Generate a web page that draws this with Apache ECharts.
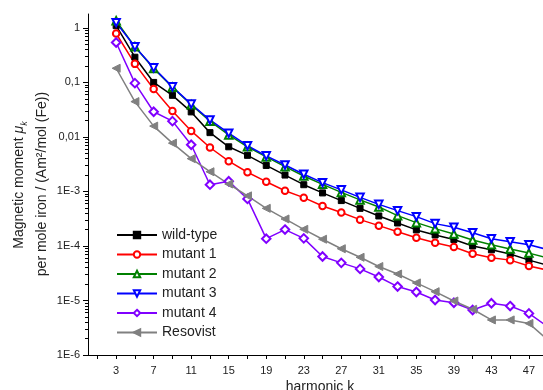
<!DOCTYPE html>
<html>
<head>
<meta charset="utf-8">
<script src="https://cdn.jsdelivr.net/npm/echarts@6/dist/echarts.min.js"></script>
<style>
  html, body { margin: 0; padding: 0; background: #fff; }
  #chart { width: 543px; height: 390px; }
</style>
</head>
<body>
<div id="chart"></div>
<script>
// harmonic numbers (odd harmonics)
const harmonics = [3, 5, 7, 9, 11, 13, 15, 17, 19, 21, 23, 25, 27, 29, 31, 33, 35, 37, 39, 41, 43, 45, 47, 49]

// magnetic moment per mole iron
const wildType = [1.1, 0.29, 0.1, 0.058, 0.0288, 0.012, 0.0066, 0.0046, 0.0030, 0.0020, 0.00133, 0.00094,
  0.00068, 0.00049, 0.000355, 0.000264, 0.000197, 0.000159, 0.000131, 0.0001, 8.5e-5, 7.1e-5, 5.5e-5, 4.4e-5]
const mutant1 = [0.79, 0.219, 0.076, 0.030, 0.0129, 0.0064, 0.0036, 0.00225, 0.00151, 0.00103, 0.00077, 0.00054,
  0.00041, 0.000304, 0.000236, 0.000183, 0.000142, 0.000115, 9.6e-5, 7.2e-5, 6.1e-5, 5.5e-5, 4.3e-5, 3.6e-5]
const mutant2 = [1.35, 0.45, 0.18, 0.082, 0.039, 0.0195, 0.0109, 0.0066, 0.0043, 0.00285, 0.00192, 0.00135,
  0.00096, 0.0007, 0.00052, 0.00036, 0.000268, 0.000208, 0.000166, 0.000129, 0.000105, 8.8e-5, 7.4e-5, 6.0e-5]
const mutant3 = [1.25, 0.45, 0.185, 0.083, 0.040, 0.0205, 0.0117, 0.0069, 0.0045, 0.00306, 0.00207, 0.00145,
  0.00107, 0.00078, 0.00058, 0.000445, 0.000345, 0.000257, 0.00022, 0.000175, 0.000136, 0.00012, 0.000105, 8.6e-5]
const mutant4 = [0.54, 0.097, 0.029, 0.0195, 0.0072, 0.00133, 0.00154, 0.00073, 0.000136, 0.0002, 0.000138, 6.4e-5,
  4.9e-5, 3.8e-5, 2.7e-5, 1.8e-5, 1.43e-5, 1.02e-5, 9.1e-6, 6.7e-6, 8.9e-6, 7.9e-6, 5.8e-6, 3.3e-6]
const resovist = [0.182, 0.0445, 0.0158, 0.0077, 0.004, 0.0023, 0.00137, 0.00083, 0.00049, 0.000313, 0.000202, 0.000133,
  8.9e-5, 6.2e-5, 4.2e-5, 3.06e-5, 2.1e-5, 1.45e-5, 9.8e-6, 6.9e-6, 4.4e-6, 4.4e-6, 3.8e-6, 1.9e-6]

// axis ticks / labels
const xTickValues = [1, 3, 5, 7, 9, 11, 13, 15, 17, 19, 21, 23, 25, 27, 29, 31, 33, 35, 37, 39, 41, 43, 45, 47]
const xLabelValues = [3, 7, 11, 15, 19, 23, 27, 31, 35, 39, 43, 47]
const yLabelValues = [1e-6, 1e-5, 1e-4, 1e-3, 1e-2, 1e-1, 1]
const yLabelTexts = ['1E-6', '1E-5', '1E-4', '1E-3', '0,01', '0,1', '1']

const yMin = 1e-6
const yMax = 1.8
const xMax = 48.5

// minor ticks 2..9 per decade
const yMinorValues = []
for (let d = -6; d <= 0; d++) {
  for (let m = 2; m <= 9; m++) {
    const v = m * Math.pow(10, d)
    if (v < yMax) yMinorValues.push(+v.toPrecision(3))
  }
}

const FONT = 'Liberation Sans, Arial, sans-serif'

const lines = [
  { name: 'wild-type', values: wildType, color: '#000000', symbol: 'rect', size: 6, rotate: 0 },
  { name: 'mutant 1', values: mutant1, color: '#ff0000', symbol: 'emptyCircle', size: 6.5, rotate: 0 },
  { name: 'mutant 2', values: mutant2, color: '#008000', symbol: 'emptyTriangle', size: 7.5, rotate: 0 },
  { name: 'mutant 3', values: mutant3, color: '#0000ff', symbol: 'emptyTriangle', size: 7.5, rotate: 180 },
  { name: 'mutant 4', values: mutant4, color: '#8000ff', symbol: 'emptyDiamond', size: 8.5, rotate: 0 },
  { name: 'Resovist', values: resovist, color: '#808080', symbol: 'triangle', size: 8, rotate: 90 },
]

const chart = echarts.init(document.getElementById('chart'))

const option = {
  animation: false,
  backgroundColor: '#ffffff',
  grid: { left: 88, right: 0, top: 14, bottom: 35 },
  legend: {
    orient: 'vertical',
    left: 111,
    top: 223,
    itemWidth: 40,
    itemHeight: 8,
    itemGap: 5.5,
    textStyle: { fontFamily: FONT, fontSize: 14, color: '#222', lineHeight: 14 },
    data: lines.map(l => l.name),
  },
  xAxis: {
    type: 'value',
    min: 0,
    max: xMax,
    axisLine: { lineStyle: { color: '#000', width: 1 } },
    splitLine: { show: false },
    axisTick: { customValues: xTickValues, length: 4, lineStyle: { color: '#000' } },
    axisLabel: {
      customValues: xLabelValues,
      margin: 10,
      fontFamily: FONT,
      fontSize: 11,
      color: '#222',
    },
  },
  yAxis: [
    {
      type: 'log',
      logBase: 10,
      min: yMin,
      max: yMax,
      axisLine: { show: true, lineStyle: { color: '#000', width: 1 } },
      splitLine: { show: false },
      axisTick: { customValues: yLabelValues, length: 5, lineStyle: { color: '#000' } },
      axisLabel: {
        customValues: yLabelValues,
        margin: 8,
        fontFamily: FONT,
        fontSize: 11,
        color: '#222',
        formatter: v => {
          const i = yLabelValues.findIndex(t => Math.abs(Math.log10(t) - Math.log10(v)) < 1e-6)
          return i >= 0 ? yLabelTexts[i] : ''
        },
      },
    },
    {
      type: 'log',
      logBase: 10,
      min: yMin,
      max: yMax,
      position: 'left',
      axisLine: { show: false },
      splitLine: { show: false },
      axisTick: { customValues: yMinorValues, length: 3, lineStyle: { color: '#000' } },
      axisLabel: { show: false },
    },
  ],
  graphic: [
    {
      type: 'text',
      x: 19,
      y: 185,
      rotation: Math.PI / 2,
      style: {
        text: '{n|Magnetic moment }{mu|μ}{k|k}',
        align: 'center',
        verticalAlign: 'middle',
        rich: {
          n: { fontFamily: FONT, fontSize: 14, fill: '#222' },
          mu: { fontFamily: FONT, fontSize: 14, fontStyle: 'italic', fill: '#222' },
          k: { fontFamily: FONT, fontSize: 9, fontStyle: 'italic', fill: '#222', verticalAlign: 'bottom', lineHeight: 20 },
        },
      },
    },
    {
      type: 'text',
      x: 42,
      y: 184,
      rotation: Math.PI / 2,
      style: {
        text: 'per mole iron / (Am²/mol (Fe))',
        font: '14px ' + FONT,
        fill: '#222',
        align: 'center',
        verticalAlign: 'middle',
      },
    },
    {
      type: 'text',
      x: 320,
      y: 387,
      style: {
        text: 'harmonic k',
        font: '14px ' + FONT,
        fill: '#222',
        align: 'center',
        verticalAlign: 'middle',
      },
    },
  ],
  series: lines.map(l => ({
    name: l.name,
    type: 'line',
    yAxisIndex: 0,
    data: harmonics.map((h, i) => [h, l.values[i]]),
    symbol: l.symbol,
    symbolSize: l.size,
    symbolRotate: l.rotate,
    showAllSymbol: true,
    clip: true,
    lineStyle: { color: l.color, width: 1.5 },
    itemStyle: { color: l.color, borderColor: l.color, borderWidth: 1 },
    emphasis: { disabled: true },
  })),
}

chart.setOption(option)
</script>
</body>
</html>
